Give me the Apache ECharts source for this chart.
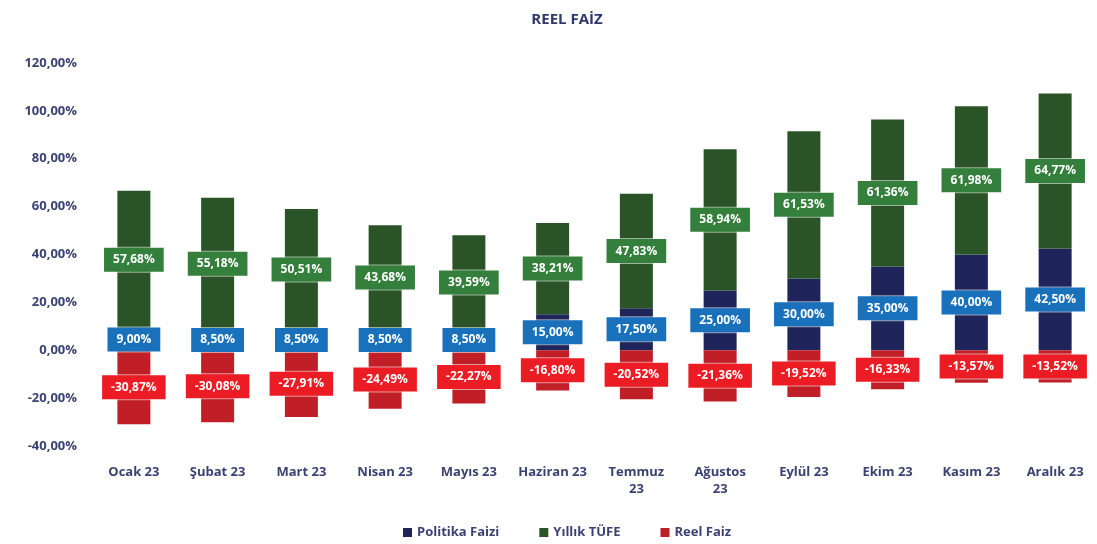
<!DOCTYPE html>
<html>
<head>
<meta charset="utf-8">
<script src="https://cdn.jsdelivr.net/npm/echarts@6/dist/echarts.min.js"></script>
<style>
  html, body { margin: 0; padding: 0; background: #fff; }
  #chart { width: 1097px; height: 544px; }
</style>
</head>
<body>
<div id="chart"></div>
<script>
const months = ['Ocak 23', 'Şubat 23', 'Mart 23', 'Nisan 23', 'Mayıs 23', 'Haziran 23',
    'Temmuz 23', 'Ağustos 23', 'Eylül 23', 'Ekim 23', 'Kasım 23', 'Aralık 23'];
const wrapped = ['Temmuz 23', 'Ağustos 23'];
const politikaFaizi = [9, 8.5, 8.5, 8.5, 8.5, 15, 17.5, 25, 30, 35, 40, 42.5];
const yillikTufe = [57.68, 55.18, 50.51, 43.68, 39.59, 38.21, 47.83, 58.94, 61.53, 61.36, 61.98, 64.77];
const reelFaiz = [-30.87, -30.08, -27.91, -24.49, -22.27, -16.80, -20.52, -21.36, -19.52, -16.33, -13.57, -13.52];

const txt = '#3b4272';
const font = '"Open Sans", Roboto, sans-serif';
const pct = v => v.toFixed(2).replace('.', ',') + '%';

// kutulu etiket
const boxLabel = bg => ({
    show: true,
    position: 'inside',
    formatter: p => pct(p.value),
    color: '#fff',
    fontFamily: font,
    fontWeight: 'bold',
    fontSize: 12,
    backgroundColor: bg,
    borderColor: 'rgba(255,255,255,0.55)',
    borderWidth: 1,
    padding: [6, 9]
});

const chart = echarts.init(document.getElementById('chart'));
chart.setOption({
    animation: false,
    title: {
        text: 'REEL FAİZ',
        left: 562,
        textAlign: 'center',
        top: 7,
        textStyle: { color: '#2e386c', fontFamily: font, fontWeight: 'bold', fontSize: 15 }
    },
    legend: {
        bottom: 0,
        left: 398,
        itemWidth: 9,
        itemHeight: 9,
        itemGap: 40,
        icon: 'rect',
        textStyle: { color: txt, fontFamily: font, fontWeight: 'bold', fontSize: 13 },
        data: ['Politika Faizi', 'Yıllık TÜFE', 'Reel Faiz']
    },
    grid: { left: 92, top: 63, width: 1010, height: 383, containLabel: false },
    xAxis: {
        type: 'category',
        data: months,
        axisLine: { show: false },
        axisTick: { show: false },
        axisLabel: {
            interval: 0,
            margin: 18,
            color: txt,
            fontFamily: font,
            fontWeight: 'bold',
            fontSize: 13,
            lineHeight: 17,
            formatter: v => wrapped.includes(v) ? v.replace(' ', '\n') : v
        }
    },
    yAxis: {
        type: 'value',
        min: -40,
        max: 120,
        interval: 20,
        splitLine: { show: false },
        axisLine: { show: false },
        axisTick: { show: false },
        axisLabel: {
            margin: 15,
            color: txt,
            fontFamily: font,
            fontWeight: 'bold',
            fontSize: 13,
            formatter: v => pct(v)
        }
    },
    series: [
        {
            name: 'Politika Faizi',
            type: 'bar',
            stack: 'a',
            barWidth: 33,
            data: politikaFaizi,
            itemStyle: { color: '#1f255b' },
            label: boxLabel('#1a71bb')
        },
        {
            name: 'Yıllık TÜFE',
            type: 'bar',
            stack: 'a',
            barWidth: 33,
            data: yillikTufe,
            itemStyle: { color: '#2a5427' },
            label: boxLabel('#347f3b')
        },
        {
            name: 'Reel Faiz',
            type: 'bar',
            stack: 'a',
            barWidth: 33,
            data: reelFaiz,
            itemStyle: { color: '#c01f27' },
            label: boxLabel('#ec1c24')
        }
    ]
});
</script>
</body>
</html>
